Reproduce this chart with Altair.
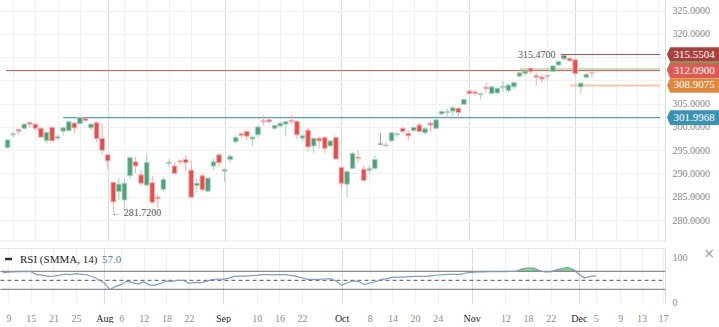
import altair as alt
import pandas as pd

# ---------------- data ----------------
opens = [295.6, 298.3, 299.4, 299.7, 300.9, 300.6, 299.7, 297.1, 299.9, 297.6,
         299.1, 299.2, 300.8, 300.7, 301.8, 299.8, 300.9, 297.5, 294.0, 288.1,
         286.1, 284.3, 289.5, 292.5, 289.7, 287.5, 288.0, 284.9, 286.6, 292.2,
         291.6, 292.7, 293.0, 290.7, 287.4, 289.5, 286.2, 291.6, 294.0, 290.5,
         293.0, 296.8, 298.5, 299.0, 297.4, 298.3, 301.3, 301.5, 299.7, 300.2,
         300.6, 301.4, 301.2, 297.6, 299.3, 295.9, 297.55, 297.7, 295.9, 297.7,
         291.3, 287.7, 291.1, 293.5, 290.9, 290.7, 291.1, 296.3, 295.95, 297.0,
         298.3, 299.7, 298.6, 299.2, 300.4, 298.75, 300.8, 299.7, 302.8, 303.1,
         303.4, 304.0, 304.85, 307.7, 307.5, 306.9, 308.5, 307.2, 307.3, 308.5,
         307.8, 308.6, 310.9, 311.5, 312.6, 311.0, 310.7, 311.0, 311.9, 313.3,
         314.6, 314.7, 314.4, 308.6, 310.65, 311.65]
highs = [297.4, 299.0, 299.6, 300.7, 301.0, 300.8, 299.9, 299.2, 300.1, 298.4,
         299.9, 301.4, 301.0, 302.2, 302.0, 300.8, 301.2, 300.8, 294.1, 288.2,
         289.0, 288.8, 293.6, 293.6, 290.8, 294.1, 289.5, 285.6, 289.3, 293.1,
         292.4, 293.0, 293.9, 292.8, 289.0, 290.0, 289.1, 293.2, 294.2, 291.1,
         294.1, 298.2, 298.8, 299.2, 298.1, 300.3, 302.4, 301.8, 300.5, 301.0,
         301.3, 302.6, 301.5, 298.4, 299.8, 297.8, 297.9, 298.0, 297.2, 298.2,
         291.5, 290.4, 294.6, 295.0, 291.6, 291.6, 293.9, 298.7, 296.7, 298.9,
         298.9, 300.0, 299.4, 300.0, 300.9, 299.9, 301.1, 301.8, 303.6, 303.9,
         304.5, 304.2, 306.2, 308.0, 307.9, 307.4, 309.6, 308.8, 308.4, 309.9,
         309.2, 309.7, 311.8, 312.1, 312.7, 311.6, 311.2, 311.3, 313.2, 314.2,
         315.47, 315.0, 314.6, 309.5, 311.6, 311.7]
lows = [295.3, 297.7, 298.3, 299.5, 299.8, 299.3, 297.7, 296.5, 296.9, 297.2,
        298.1, 299.0, 298.6, 300.5, 301.1, 299.4, 296.8, 294.0, 290.9, 281.72,
        284.3, 282.1, 288.9, 290.0, 287.4, 287.3, 283.5, 282.4, 286.0, 291.4,
        289.9, 291.9, 290.5, 284.8, 285.9, 286.1, 285.9, 290.8, 291.4, 288.2,
        292.3, 296.5, 297.5, 297.2, 295.7, 297.7, 300.3, 300.8, 299.4, 299.9,
        298.0, 300.5, 297.3, 297.0, 294.7, 294.3, 295.3, 294.4, 295.8, 293.0,
        286.6, 284.9, 290.9, 292.3, 288.4, 289.8, 290.9, 296.1, 295.6, 296.8,
        297.9, 298.6, 297.1, 299.0, 298.9, 298.3, 299.0, 299.5, 302.5, 302.0,
        301.9, 301.6, 304.7, 306.9, 306.6, 305.9, 307.3, 306.9, 307.0, 307.5,
        307.3, 308.0, 310.7, 311.0, 311.3, 308.8, 309.5, 309.9, 311.8, 313.1,
        314.4, 314.1, 311.0, 307.2, 310.4, 310.6]
closes = [297.2, 298.5, 299.1, 300.6, 300.6, 299.7, 297.8, 298.8, 297.0, 297.9,
          299.8, 301.1, 299.8, 302.0, 301.4, 300.6, 297.5, 295.0, 292.7, 283.9,
          287.7, 287.9, 293.4, 291.6, 287.9, 292.4, 283.8, 284.6, 288.7, 292.4,
          290.0, 292.5, 292.3, 284.9, 287.9, 286.5, 289.0, 292.5, 292.3, 290.8,
          293.7, 297.7, 298.2, 298.0, 297.8, 300.0, 301.1, 301.1, 300.3, 300.8,
          301.1, 301.2, 298.3, 298.1, 295.7, 297.55, 297.0, 295.4, 297.0, 293.1,
          287.9, 290.4, 294.3, 293.3, 288.5, 291.0, 293.0, 296.3, 296.1, 298.75,
          298.5, 299.0, 298.1, 299.9, 299.0, 299.6, 300.4, 301.5, 303.3, 303.25,
          304.1, 303.1, 305.9, 307.2, 307.2, 307.1, 308.2, 308.6, 308.3, 308.7,
          309.0, 309.5, 311.6, 312.0, 311.9, 310.7, 310.3, 310.9, 313.1, 314.0,
          315.3, 314.2, 311.5, 309.4, 311.3, 311.6]
rsi_values = [67.3, 68.2, 68.9, 69.2, 69.8, 69.5, 62.6, 61.4, 58.8, 59.5,
              61.0, 64.0, 62.6, 64.8, 63.3, 61.8, 58.0, 51.4, 44.0, 29.2,
              36.6, 40.3, 47.7, 44.7, 41.8, 46.9, 39.5, 39.5, 43.3, 48.4,
              47.7, 50.0, 50.0, 43.3, 45.4, 44.5, 47.7, 51.4, 52.9, 52.0,
              55.0, 58.8, 59.5, 59.5, 60.3, 61.0, 62.6, 62.6, 62.2, 62.6,
              62.6, 61.0, 58.8, 55.8, 52.1, 52.1, 52.1, 52.9, 53.6, 48.4,
              38.8, 44.7, 48.4, 47.7, 40.3, 44.0, 46.9, 51.4, 53.6, 56.6,
              57.3, 57.3, 58.0, 58.8, 58.8, 58.8, 60.3, 61.8, 62.6, 63.3,
              63.3, 63.3, 66.3, 67.7, 68.5, 68.5, 69.0, 69.3, 69.5, 69.5,
              69.7, 70.3, 75.5, 77.0, 77.0, 71.5, 68.5, 68.7, 73.5, 76.0,
              78.5, 74.0, 63.3, 55.0, 58.8, 60.0]

tick_positions = [1, 5, 9, 13, 18, 21, 25, 29, 33, 39, 45, 49, 53, 60,
                  65, 69, 73, 77, 83, 89, 93, 97, 102, 105, 109.3, 113.1, 116.9]
tick_labels = ["9", "15", "21", "25", "Aug", "6", "12", "18", "22", "Sep", "10", "16", "22", "Oct",
               "8", "14", "20", "24", "Nov", "12", "18", "22", "Dec", "5", "9", "13", "17"]
month_labels = ["Aug", "Sep", "Oct", "Nov", "Dec"]
price_ticks = [280, 285, 290, 295, 300, 305, 310, 315, 320, 325]
hidden_price_ticks = [310, 315]   # covered by the price tags in the reference

level_names = ["resist", "green", "last", "open", "support"]
level_prices = [315.5504, 312.45, 312.09, 308.9075, 301.9968]
level_starts = [99.4, 92, -0.3, 101.1, 10]
level_labels = ["315.5504", "", "312.0900", "308.9075", "301.9968"]

note_index = [100, 19]
note_price = [315.47, 281.72]
note_text = ["315.4700 \u2192", "\u2190 281.7200"]

rsi_bands = [70, 50, 30]
rsi_overbought = 70
rsi_title = "RSI (SMMA, 14)"
rsi_last = "57.0"

# ---------------- chart ----------------
X_MIN, X_MAX = -0.46, 117.24
W, H_MAIN, H_RSI = 665, 241, 55
SERIF = "Liberation Serif"


def pick(field, mapping, default, quote=True):
    q = "'" if quote else ""
    expr = ""
    for k, v in mapping.items():
        expr += f"datum.{field} == '{k}' ? {q}{v}{q} : "
    return expr + f"{q}{default}{q}"


n = len(opens)
df = pd.DataFrame({"i": list(range(n)), "o": opens, "h": highs, "l": lows, "c": closes})
df["dir"] = ["up" if c > o else ("down" if c < o else "flat") for o, c in zip(opens, closes)]
df["lo"] = df[["o", "c"]].min(axis=1)
df["hi"] = df[["o", "c"]].max(axis=1)

levels = pd.DataFrame({"name": level_names, "price": level_prices, "start": level_starts,
                       "end": [X_MAX] * len(level_names), "label": level_labels})
notes = pd.DataFrame({"i": note_index, "price": note_price, "text": note_text})

xscale = alt.Scale(domain=[X_MIN, X_MAX], nice=False, zero=False)
yscale = alt.Scale(domain=[275.49, 327.26], nice=False, zero=False)

month_pos = [p for p, t in zip(tick_positions, tick_labels) if t in month_labels]
month_test = "indexof([" + ",".join(str(p) for p in month_pos) + "], datum.value) >= 0"
label_expr = ("[" + ",".join("'" + t + "'" for t in tick_labels) + "][indexof(["
              + ",".join(str(p) for p in tick_positions) + "], datum.value)]")
grid_color = {"condition": {"test": month_test, "value": "#d7dcde"}, "value": "#eef1f2"}
price_label_expr = ("indexof([" + ",".join(str(p) for p in hidden_price_ticks)
                    + "], datum.value) >= 0 ? '' : format(datum.value, '.4f')")

x_axis_main = alt.Axis(values=tick_positions, labels=False, ticks=False, domain=False,
                       grid=True, gridColor=grid_color, title="")
y_axis_main = alt.Axis(orient="right", values=price_ticks, labelExpr=price_label_expr, title="",
                       ticks=False, grid=True, gridColor="#eef1f2", domainColor="#d3dce3",
                       labelColor="#858585", labelFont=SERIF, labelFontSize=10, labelPadding=7)


def xm(field="i"):
    return alt.X(field + ":Q", scale=xscale, axis=x_axis_main)


def ym(field):
    return alt.Y(field + ":Q", scale=yscale, axis=y_axis_main)


line_color = pick("name", {"resist": "#b24c4a", "green": "#93c47d", "last": "#c8524e",
                           "open": "#f7c7a3"}, "#4aa2c8")
line_width = pick("name", {"open": 2, "support": 1.4}, 1, quote=False)
tag_color = pick("name", {"resist": "#a9403e", "green": "#6aa84f", "last": "#e05a55",
                          "open": "#e0873c"}, "#3b93b2")
body_fill = pick("dir", {"up": "#4f9f79", "down": "#e04e4e"}, "#9a9a9a")
body_line = pick("dir", {"up": "#a3d3b9", "down": "#f3aaaa"}, "#9a9a9a")

level_rules = alt.Chart(levels).transform_calculate(col=line_color, sw=line_width).mark_rule().encode(
    x=xm("start"), x2="end:Q", y=ym("price"),
    color=alt.Color("col:N", scale=None),
    strokeWidth=alt.StrokeWidth("sw:Q", scale=None),
)

candles = alt.Chart(df).transform_calculate(fillc=body_fill, linec=body_line)
wicks = candles.mark_rule(strokeWidth=1).encode(
    x=xm(), y=ym("l"), y2="h:Q", color=alt.Color("linec:N", scale=None))
bodies = candles.mark_bar(width=4.6, strokeWidth=1).encode(
    x=xm(), y=ym("lo"), y2="hi:Q",
    fill=alt.Fill("fillc:N", scale=None), stroke=alt.Stroke("linec:N", scale=None))

note_hi = alt.Chart(notes.iloc[[0]]).mark_text(align="right", dx=4, font=SERIF, fontSize=10,
                                               color="#555555").encode(
    x=xm(), y=ym("price"), text="text:N")
note_lo = alt.Chart(notes.iloc[[1]]).mark_text(align="left", dx=-2, dy=1, font=SERIF, fontSize=10,
                                               color="#555555").encode(
    x=xm(), y=ym("price"), text="text:N")

tag_shape = "M-1,0L-0.88,-0.28L1,-0.28L1,0.28L-0.88,0.28Z"
tags = alt.Chart(levels).transform_calculate(col=tag_color).mark_point(
    shape=tag_shape, filled=True, size=2704, opacity=1, strokeWidth=0).encode(
    x=alt.value(693), y=ym("price"), fill=alt.Fill("col:N", scale=None))
tag_text = alt.Chart(levels).transform_filter("datum.label != ''").mark_text(
    font=SERIF, fontSize=11, color="white", align="center").encode(
    x=alt.value(694), y=ym("price"), text="label:N")

sep = alt.Chart(pd.DataFrame({"k": [0]})).mark_rule(color="#e8ebec").encode(
    x=alt.value(0.5), x2=alt.value(W), y=alt.value(H_MAIN))

main = alt.layer(level_rules, wicks, bodies, note_hi, note_lo, tags, tag_text, sep).properties(
    width=W, height=H_MAIN)

# ---------------- RSI panel ----------------
rsi_df = pd.DataFrame({"i": list(range(n)), "rsi": rsi_values})
rsi_scale = alt.Scale(domain=[-0.4, 121.8], nice=False, zero=False)
x_axis_rsi = alt.Axis(values=tick_positions, labelExpr=label_expr, ticks=False, domain=False,
                      grid=True, gridColor=grid_color, title="", labelFlush=False,
                      labelOverlap=False, labelFont=SERIF, labelFontSize=10, labelPadding=10,
                      labelColor={"condition": {"test": month_test, "value": "#222222"},
                                  "value": "#8c8c8c"})
y_axis_rsi = alt.Axis(orient="right", values=[0, 100], format="d", title="", ticks=False,
                      grid=False, domainColor="#d3dce3", labelColor="#858585", labelFont=SERIF,
                      labelFontSize=10, labelPadding=7)


def xr(field="i"):
    return alt.X(field + ":Q", scale=xscale, axis=x_axis_rsi)


def yr(field):
    return alt.Y(field + ":Q", scale=rsi_scale, axis=y_axis_rsi)


top_line = alt.Chart(pd.DataFrame({"k": [0]})).mark_rule(color="#e4e8e9").encode(
    x=alt.value(0.5), x2=alt.value(W), y=alt.value(0.5))
bands = alt.Chart(pd.DataFrame({"band": rsi_bands})).mark_rule(color="#555555", strokeWidth=1).encode(
    x=alt.value(0.5), x2=alt.value(W), y=yr("band"),
    strokeDash=alt.condition(alt.datum.band == 50, alt.value([4, 3]), alt.value([1, 0])),
)
fill = alt.Chart(rsi_df).transform_calculate(
    top=f"max(datum.rsi, {rsi_overbought})").mark_area(color="#7fe07f", opacity=1).encode(
    x=xr(), y=yr("top"), y2=alt.datum(rsi_overbought))
rsi_line = alt.Chart(rsi_df).mark_line(color="#7b9bcc", strokeWidth=1.2).encode(
    x=xr(), y=yr("rsi"))

legend_df = pd.DataFrame({"k": [0]})
dash = alt.Chart(legend_df).mark_rule(color="#333333", strokeWidth=2.5).encode(
    x=alt.value(5), x2=alt.value(12), y=alt.value(11))
title_txt = alt.Chart(legend_df).mark_text(align="left", font=SERIF, fontSize=11,
                                           color="#222222").encode(
    x=alt.value(20), y=alt.value(12), text=alt.value(rsi_title))
last_txt = alt.Chart(legend_df).mark_text(align="left", font=SERIF, fontSize=11,
                                          color="#4a7cc0").encode(
    x=alt.value(102), y=alt.value(12), text=alt.value(rsi_last))
close_x = alt.Chart(legend_df).mark_text(font="DejaVu Sans", fontSize=14,
                                         color="#999999").encode(
    x=alt.value(709), y=alt.value(6), text=alt.value("\u00d7"))

rsi_chart = alt.layer(top_line, fill, bands, rsi_line, dash, title_txt, last_txt, close_x).properties(
    width=W, height=H_RSI)

chart = alt.vconcat(main, rsi_chart, spacing=5).properties(
    padding={"left": 0, "top": 0, "right": 0, "bottom": 0},
    autosize=alt.AutoSizeParams(type="pad"),
    background="white",
).configure_view(strokeWidth=0, stroke="transparent")

chart.save("out.html", embed_options={"renderer": "svg", "actions": False})
